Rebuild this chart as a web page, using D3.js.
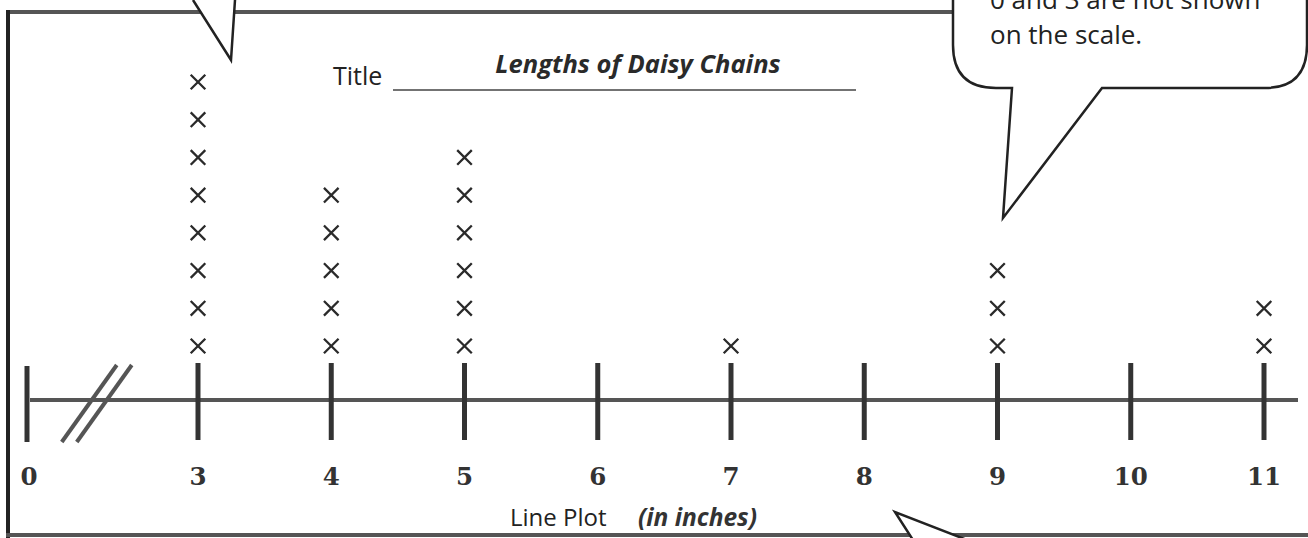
<!DOCTYPE html>
<html>
<head>
<meta charset="utf-8">
<script src="https://cdn.jsdelivr.net/npm/d3@7"></script>
<style>
  html, body { margin: 0; padding: 0; background: #fff; }
  svg { display: block; }
</style>
</head>
<body>
<svg id="chart" width="1308" height="538"></svg>
<script>
// ---- data ----
const lengths = [3, 4, 5, 6, 7, 8, 9, 10, 11];
const counts  = [8, 5, 6, 0, 1, 0, 3, 0, 2];
const tickValues = [0, 3, 4, 5, 6, 7, 8, 9, 10, 11];
const tickLabels = ["0", "3", "4", "5", "6", "7", "8", "9", "10", "11"];
const titleText = "Lengths of Daisy Chains";
const titleLabel = "Title";
const axisLabel = "Line Plot";
const axisUnit = "(in inches)";
const noteLines = ["0 and 3 are not shown", "on the scale."];

const svg = d3.select("#chart");
const ink = "#222";
const gray = "#555";

// piecewise scale: 0 then a break, then 3..11
const x = d3.scaleLinear().domain([0, 3, 11]).range([27, 198, 1264]);
const axisY = 400;
// stack position of X marks
const y = d3.scaleLinear().domain([0, 7]).range([346, 82]);

// ---- frame ----
svg.append("line").attr("x1", 6).attr("x2", 955).attr("y1", 12).attr("y2", 12)
  .attr("stroke", gray).attr("stroke-width", 4);
svg.append("line").attr("x1", 8).attr("x2", 8).attr("y1", 10).attr("y2", 538)
  .attr("stroke", ink).attr("stroke-width", 4);
svg.append("line").attr("x1", 6).attr("x2", 1308).attr("y1", 535).attr("y2", 535)
  .attr("stroke", gray).attr("stroke-width", 4);

// top-left callout tail
svg.append("path").attr("d", "M193,0 L231,60 L235,0 Z").attr("fill", "#fff");
svg.append("path").attr("d", "M193,0 L231,60 L235,0").attr("fill", "none")
  .attr("stroke", ink).attr("stroke-width", 2.5).attr("stroke-linejoin", "miter");

// top-right callout bubble
svg.append("path")
  .attr("d", "M953,-5 L953,45 Q953,88 996,88 L1012,88 L1003,218 L1102,88 L1265,88 Q1307,88 1307,45 L1307,-5 Z")
  .attr("fill", "#fff").attr("stroke", ink).attr("stroke-width", 2.5).attr("stroke-linejoin", "miter");
svg.append("g").selectAll("text").data(noteLines).join("text")
  .attr("x", 990).attr("y", (d, i) => 9 + i * 35)
  .attr("font-family", "'Open Sans', sans-serif").attr("font-size", 26)
  .attr("fill", ink).text(d => d);

// bottom callout tail
svg.append("path").attr("d", "M913,540 L895,512 L967,540 Z").attr("fill", "#fff");
svg.append("path").attr("d", "M913,540 L895,512 L967,540").attr("fill", "none")
  .attr("stroke", ink).attr("stroke-width", 2.5);

// ---- title ----
svg.append("text").attr("x", 333).attr("y", 85)
  .attr("font-family", "'Open Sans', sans-serif").attr("font-size", 25)
  .attr("fill", ink).text(titleLabel);
svg.append("line").attr("x1", 393).attr("x2", 856).attr("y1", 90).attr("y2", 90)
  .attr("stroke", "#444").attr("stroke-width", 1.5);
svg.append("text").attr("x", 638).attr("y", 73).attr("text-anchor", "middle")
  .attr("font-family", "'Open Sans', sans-serif").attr("font-size", 25.5)
  .attr("font-weight", "bold").attr("font-style", "italic")
  .attr("fill", "#2a2a2a").text(titleText);

// ---- number line ----
svg.append("line").attr("x1", 30).attr("x2", 1298).attr("y1", axisY).attr("y2", axisY)
  .attr("stroke", gray).attr("stroke-width", 4);

svg.append("g").selectAll("line").data(tickValues).join("line")
  .attr("x1", d => x(d)).attr("x2", d => x(d))
  .attr("y1", d => d === 0 ? 366 : 363).attr("y2", d => d === 0 ? 442 : 440)
  .attr("stroke", "#333").attr("stroke-width", 5);

// break marks between 0 and 3
const b0 = x(0.61);
[0, 15].forEach(off => {
  svg.append("line")
    .attr("x1", b0 + off).attr("y1", 442)
    .attr("x2", b0 + off + 55).attr("y2", 365)
    .attr("stroke", gray).attr("stroke-width", 4);
});

svg.append("g").selectAll("text").data(tickValues).join("text")
  .attr("x", (d) => x(d) + (d === 0 ? 2 : 0)).attr("y", 485)
  .attr("text-anchor", "middle")
  .attr("font-family", "'DejaVu Serif', serif").attr("font-weight", "bold")
  .attr("font-size", 24.5).attr("fill", "#333")
  .text((d, i) => tickLabels[i]);

// ---- X marks ----
const marks = [];
lengths.forEach((v, i) => { for (let k = 0; k < counts[i]; k++) marks.push({ v, k }); });
const h = 7.3;
svg.append("g").selectAll("path").data(marks).join("path")
  .attr("d", d => {
    const cx = x(d.v), cy = y(d.k);
    return `M${cx - h},${cy - h}L${cx + h},${cy + h}M${cx + h},${cy - h}L${cx - h},${cy + h}`;
  })
  .attr("stroke", "#2a2a2a").attr("stroke-width", 2.3).attr("fill", "none");

// ---- axis label ----
svg.append("text").attr("x", 510).attr("y", 526)
  .attr("font-family", "'Open Sans', sans-serif").attr("font-size", 24)
  .attr("fill", ink).text(axisLabel);
svg.append("text").attr("x", 638).attr("y", 526)
  .attr("font-family", "'Open Sans', sans-serif").attr("font-size", 24.5)
  .attr("font-weight", "bold").attr("font-style", "italic")
  .attr("fill", "#333").text(axisUnit);
</script>
</body>
</html>
